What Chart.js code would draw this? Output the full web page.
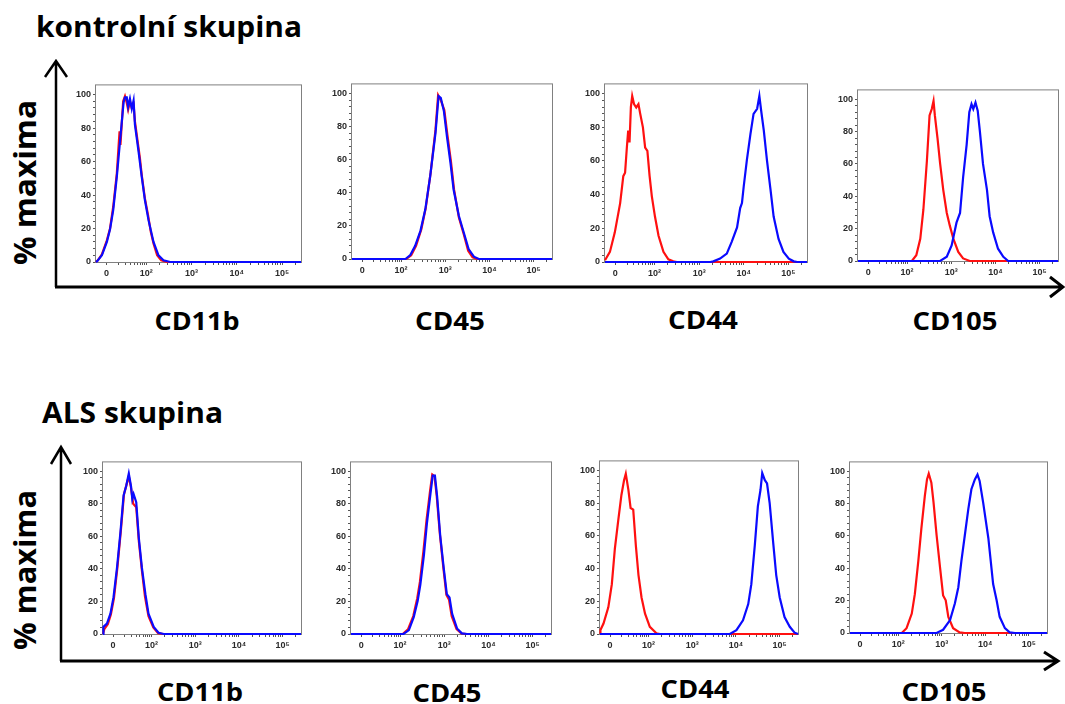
<!DOCTYPE html>
<html>
<head>
<meta charset="utf-8">
<script src="https://cdn.jsdelivr.net/npm/chart.js@4/dist/chart.umd.min.js"></script>
<style>
  html, body { margin: 0; padding: 0; background: #fff; }
  #stage { position: relative; width: 1065px; height: 704px; overflow: hidden; }
  #stage canvas { position: absolute; }
  #ann { position: absolute; left: 0; top: 0; }
</style>
</head>
<body>
<div id="stage">
  <svg id="ann" width="1065" height="704" xmlns="http://www.w3.org/2000/svg"></svg>
</div>
<script>
// ---- labels ----
const groupTitles = ['kontrolní skupina', 'ALS skupina'];
const markers = ['CD11b', 'CD45', 'CD44', 'CD105'];
const yAxisTitle = '% maxima';

// biexponential display axis: positions of the labelled decades
const tickPositions = [1.12, 2, 3, 4, 5];
const tickLabels = ['0', '10²', '10³', '10⁴', '10⁵'];
const yTickLabels = [0, 20, 40, 60, 80, 100];

// ---- histograms: [display position, % of maximum] ----
// control group
const ctrlCD11bBlue = [[0.89,0],[0.92,0.6],[1.02,4],[1.13,12],[1.2,19.5],[1.27,31],[1.35,51],[1.42,72],[1.5,95.5],[1.53,98.4],[1.57,98.4],[1.6,92.6],[1.64,97.5],[1.68,91.6],[1.72,96.5],[1.75,82],[1.83,66],[1.9,51],[1.97,37],[2.05,25],[2.16,12],[2.27,4],[2.38,1],[2.53,0],[5.418,0]];
const ctrlCD11bRed  = [[0.89,0],[0.93,1],[1.02,4.5],[1.13,13],[1.2,20],[1.27,33],[1.35,53],[1.41,78],[1.43,70],[1.49,96],[1.53,99],[1.57,95],[1.6,91],[1.64,96],[1.68,92],[1.72,94],[1.75,84],[1.83,68],[1.86,62],[1.9,52],[1.97,38],[2.04,28],[2.1,18],[2.16,11],[2.24,4],[2.33,1],[2.45,0],[5.418,0]];
const ctrlCD45Blue  = [[0.89,0],[2.1,0],[2.21,2.4],[2.32,8],[2.44,17],[2.55,30],[2.66,50],[2.78,76],[2.85,98.4],[2.9,97.4],[2.97,89.5],[3.04,74],[3.12,58],[3.19,42],[3.31,26],[3.42,16],[3.53,6],[3.65,1.4],[3.76,0],[5.418,0]];
const ctrlCD45Red   = [[0.89,0],[2.12,0],[2.23,2.2],[2.34,8],[2.46,18],[2.56,31],[2.67,52],[2.78,78],[2.84,99],[2.9,96],[2.98,90],[3.05,75],[3.13,59],[3.2,42],[3.31,25],[3.42,15],[3.52,5],[3.62,1],[3.72,0],[5.418,0]];
const ctrlCD44Red   = [[0.89,1],[1.0,6],[1.11,17.6],[1.23,35],[1.3,51],[1.34,53],[1.38,68],[1.41,78],[1.44,71],[1.47,92],[1.5,98.6],[1.54,93.8],[1.59,91.8],[1.64,93.8],[1.68,88],[1.74,80],[1.79,68],[1.84,66],[1.89,51],[1.94,39],[2.01,27],[2.09,15.6],[2.2,6],[2.31,1.6],[2.42,0.4],[2.5,0],[5.418,0]];
const ctrlCD44Blue  = [[0.89,0],[3.25,0],[3.32,0.4],[3.47,2],[3.62,5],[3.73,12],[3.85,20.5],[3.92,32],[3.96,35],[4.0,45],[4.07,60.5],[4.15,76],[4.22,88],[4.3,91],[4.35,98.6],[4.39,90],[4.45,78],[4.52,60.5],[4.6,43],[4.67,27],[4.78,13.7],[4.89,6],[5.01,2],[5.12,0.4],[5.2,0],[5.418,0]];
const ctrlCD105Red  = [[0.89,0],[2.11,0],[2.21,3.6],[2.3,13.7],[2.37,31.7],[2.45,62],[2.51,90],[2.56,94],[2.6,99],[2.63,90],[2.69,76],[2.75,60],[2.82,44],[2.9,29.7],[2.97,21.7],[3.05,13.7],[3.16,5.6],[3.27,1.6],[3.42,0],[5.418,0]];
const ctrlCD105Blue = [[0.89,0],[2.75,0],[2.9,2.6],[3.01,9.6],[3.12,23.7],[3.2,29.7],[3.27,51.8],[3.35,72],[3.41,92],[3.46,97],[3.5,94],[3.55,98],[3.6,93],[3.65,80],[3.72,60],[3.81,44],[3.87,27.7],[3.95,17.7],[4.06,7.6],[4.18,2.6],[4.29,0],[5.418,0]];
// ALS group
const alsCD11bBlue  = [[0.89,0],[0.9,4.4],[0.98,6.4],[1.06,12.5],[1.13,22.5],[1.21,40.6],[1.29,62.8],[1.36,85],[1.42,91],[1.48,98.6],[1.53,91],[1.56,83],[1.59,86],[1.65,81],[1.71,58.8],[1.78,40.6],[1.86,24.5],[1.93,12.5],[2.05,4.4],[2.16,0.8],[2.28,0],[5.418,0]];
const alsCD11bRed   = [[0.89,0],[0.92,3],[1.0,6],[1.07,12],[1.14,22],[1.22,41],[1.3,64],[1.37,86],[1.43,92],[1.48,97],[1.53,90],[1.58,80],[1.65,78],[1.71,57],[1.78,39],[1.85,23],[1.93,11],[2.04,4],[2.15,0.5],[2.26,0],[5.418,0]];
const alsCD45Blue   = [[0.89,0],[2.08,0],[2.2,2.4],[2.31,10.4],[2.4,20.4],[2.46,30.4],[2.54,48.4],[2.61,68.4],[2.69,86.4],[2.74,97.4],[2.79,97.4],[2.84,84.4],[2.91,60.4],[2.99,40.4],[3.06,24.4],[3.12,22.4],[3.18,12.4],[3.29,3.4],[3.4,0.4],[3.52,0],[5.418,0]];
const alsCD45Red    = [[0.89,0],[2.06,0],[2.18,2.8],[2.3,11],[2.39,22],[2.45,32],[2.53,51],[2.6,70],[2.68,88],[2.73,98],[2.78,97],[2.83,85],[2.9,62],[2.98,41],[3.05,24],[3.11,21],[3.17,11],[3.28,3],[3.39,0.3],[3.5,0],[5.418,0]];
const alsCD44Red    = [[0.89,0],[0.9,2.4],[0.97,6.4],[1.08,16.3],[1.16,30.3],[1.23,52.2],[1.31,70],[1.38,85],[1.44,94],[1.48,98],[1.54,88],[1.59,77],[1.65,76],[1.71,54],[1.77,36],[1.84,22.3],[1.92,12.4],[2.03,4.4],[2.18,0.4],[2.26,0],[5.418,0]];
const alsCD44Blue   = [[0.89,0],[3.86,0],[4.01,2.4],[4.16,8.4],[4.28,18.3],[4.35,30.3],[4.43,54.2],[4.5,78],[4.56,88],[4.6,98.4],[4.66,94],[4.71,92],[4.77,80],[4.85,56],[4.92,36],[5.0,22.3],[5.11,10.4],[5.23,4.4],[5.34,0.8],[5.418,0]];
const alsCD105Red   = [[0.89,0],[2.08,0],[2.19,3],[2.31,12],[2.38,24],[2.46,44.4],[2.53,64.6],[2.61,84.8],[2.66,95],[2.7,98.6],[2.76,93],[2.81,80.8],[2.88,60.6],[2.96,40.4],[3.03,23.2],[3.09,20.2],[3.15,10],[3.26,3],[3.41,0.4],[3.53,0],[5.418,0]];
const alsCD105Blue  = [[0.89,0],[2.88,0],[3.03,2],[3.19,8],[3.3,18.2],[3.38,28.3],[3.45,44.4],[3.53,60.6],[3.61,76.8],[3.68,88.9],[3.76,95],[3.82,98],[3.87,94],[3.95,80.8],[4.07,58.6],[4.18,30.3],[4.26,20.2],[4.33,10],[4.45,3],[4.56,0.4],[4.68,0],[5.418,0]];

const panelSeries = [
  [ctrlCD11bBlue, ctrlCD11bRed], [ctrlCD45Blue, ctrlCD45Red], [ctrlCD44Blue, ctrlCD44Red], [ctrlCD105Blue, ctrlCD105Red],
  [alsCD11bBlue, alsCD11bRed], [alsCD45Blue, alsCD45Red], [alsCD44Blue, alsCD44Red], [alsCD105Blue, alsCD105Red]
];

// ---- layout: plot frames [left, top, right, bottom] ----
const frames = [
  [96, 82, 301, 262], [352, 81, 552, 259], [605, 81, 807, 262], [858, 87, 1058, 261],
  [103, 459, 301, 634], [351, 459, 551, 634], [600, 458, 798, 634], [850, 459, 1047, 633]
];
const Y_AXIS_W = 32, X_AXIS_H = 24, PAD_T = 4, PAD_R = 6;
const X_MIN = 0.89, X_MAX = 5.418, Y_MAX = 105.5;

// minor ticks on the biexponential axis
const xTickValues = (() => {
  const v = tickPositions.slice();
  for (let k = 2; k <= 9; k++) v.push(tickPositions[0] + (2 - tickPositions[0]) * Math.log10(k));
  for (let n = 2; n <= 5; n++) for (let k = 2; k <= 9; k++) {
    const p = n + Math.log10(k);
    if (p < X_MAX) v.push(p);
  }
  return v.sort((a, b) => a - b);
})();
const yTickValues = [];
for (let t = 0; t <= 100; t += 4) yTickValues.push(t);

const tickFont = { family: "'Liberation Sans', Arial, sans-serif", size: 9, weight: 'bold' };

const framePlugin = {
  id: 'frame',
  beforeDatasetsDraw(chart) {
    const { ctx, chartArea: a } = chart;
    ctx.save();
    ctx.strokeStyle = '#808080';
    ctx.lineWidth = 1;
    ctx.strokeRect(a.left - 0.5, a.top - 0.5, a.right - a.left + 1, a.bottom - a.top + 1);
    ctx.restore();
  }
};

const stage = document.getElementById('stage');
Chart.defaults.font.family = tickFont.family;

frames.forEach((f, i) => {
  const [l, t, r, b] = f;
  const w = (r - l) + Y_AXIS_W + PAD_R;
  const h = (b - t) + PAD_T + X_AXIS_H;
  const cv = document.createElement('canvas');
  cv.width = w; cv.height = h;
  cv.style.left = (l - Y_AXIS_W) + 'px';
  cv.style.top = (t - PAD_T) + 'px';
  cv.style.width = w + 'px'; cv.style.height = h + 'px';
  stage.appendChild(cv);
  const [blue, red] = panelSeries[i];
  new Chart(cv, {
    type: 'line',
    data: {
      datasets: [
        { data: blue.map(([x, y]) => ({ x, y })), borderColor: '#0a0aff', borderWidth: 2.2, pointRadius: 0, tension: 0, clip: false },
        { data: red.map(([x, y]) => ({ x, y })), borderColor: '#ff1010', borderWidth: 2.2, pointRadius: 0, tension: 0, clip: false }
      ]
    },
    options: {
      responsive: false, animation: false, devicePixelRatio: 1,
      layout: { padding: { left: 0, top: PAD_T, right: PAD_R, bottom: 0 }, autoPadding: false },
      plugins: { legend: { display: false }, tooltip: { enabled: false } },
      scales: {
        x: {
          type: 'linear', min: X_MIN, max: X_MAX,
          afterFit(s) { s.height = X_AXIS_H; },
          afterBuildTicks(s) { s.ticks = xTickValues.map(v => ({ value: v })); },
          ticks: {
            autoSkip: false, maxRotation: 0, padding: 3, color: '#2a2a2a', font: tickFont,
            callback(v) {
              const k = tickPositions.findIndex(p => Math.abs(p - v) < 1e-6);
              return k >= 0 ? tickLabels[k] : '';
            }
          },
          grid: { drawOnChartArea: false, drawTicks: true, tickLength: 3, tickColor: '#555' },
          border: { display: false }
        },
        y: {
          min: 0, max: Y_MAX,
          afterFit(s) { s.width = Y_AXIS_W; },
          afterBuildTicks(s) { s.ticks = yTickValues.map(v => ({ value: v })); },
          ticks: {
            autoSkip: false, padding: 2, color: '#2a2a2a', font: tickFont,
            callback(v) { return yTickLabels.includes(v) ? String(v) : ''; }
          },
          grid: { drawOnChartArea: false, drawTicks: true, tickLength: 3, tickColor: '#555' },
          border: { display: false }
        }
      }
    },
    plugins: [framePlugin]
  });
});

// ---- titles, axis arrows and marker names ----
const NS = 'http://www.w3.org/2000/svg';
const svg = document.getElementById('ann');
const titleFont = "'Open Sans', Lato, sans-serif";
function addText(str, attrs) {
  const el = document.createElementNS(NS, 'text');
  el.textContent = str;
  el.setAttribute('font-family', titleFont);
  el.setAttribute('font-weight', 'bold');
  el.setAttribute('fill', '#000');
  el.setAttribute('lengthAdjust', 'spacingAndGlyphs');
  for (const k in attrs) el.setAttribute(k, attrs[k]);
  svg.appendChild(el);
}
function addPath(d, w) {
  const el = document.createElementNS(NS, 'path');
  el.setAttribute('d', d);
  el.setAttribute('stroke', '#000');
  el.setAttribute('stroke-width', w);
  el.setAttribute('fill', 'none');
  svg.appendChild(el);
}

addText(groupTitles[0], { x: 36, y: 37, 'font-size': 29, textLength: 266 });
addText(groupTitles[1], { x: 42, y: 423, 'font-size': 29, textLength: 181 });
addText(yAxisTitle, { 'font-size': 30, textLength: 165, transform: 'translate(36,265) rotate(-90)' });
addText(yAxisTitle, { 'font-size': 30, textLength: 160, transform: 'translate(36,650) rotate(-90)' });

// [centre x, baseline, width]
const markerPos = [
  [[197, 330, 85], [450, 330, 70], [703, 329, 70], [955, 330, 85]],
  [[200, 701, 86], [447, 702, 69], [695, 698, 69], [944, 701, 85]]
];
markerPos.forEach(row => row.forEach(([x, y, len], j) => {
  addText(markers[j], { x, y, 'font-size': 25, 'text-anchor': 'middle', textLength: len });
}));

// axis arrows
addPath('M56 287 V61 M45 77 L56 61 L67 77', 2.5);
addPath('M55 287 H1063 M1050 277 L1063 287 L1050 297', 3);
addPath('M61 661 V447 M51 464 L61 447 L71 464', 2.5);
addPath('M60 661 H1058 M1044 652 L1058 661 L1044 670', 3);
</script>
</body>
</html>
